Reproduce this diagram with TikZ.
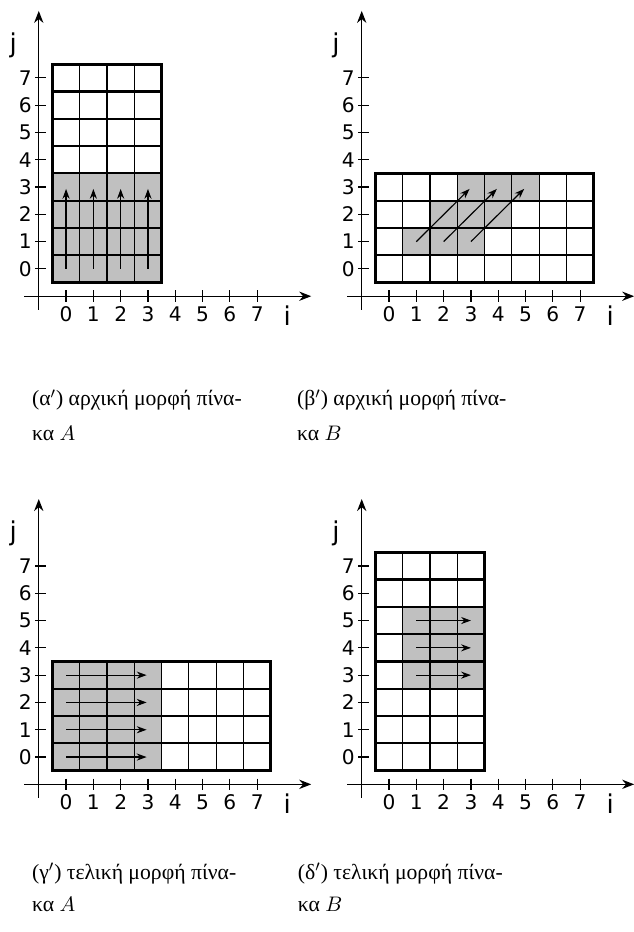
\documentclass[tikz,border=0pt]{standalone}
\usepackage{fontspec}
\usepackage{tikz}
\usetikzlibrary{arrows.meta}
\newfontfamily\grfont{Liberation Serif}
\newfontfamily\lblfont{DejaVu Sans}
\definecolor{cellgray}{RGB}{192,192,192}

\begin{document}
\begin{tikzpicture}[x=5mm, y=5mm,
    axis/.style={line width=0.7pt, -{Stealth[length=2.2mm, width=1.7mm]}},
    tickmark/.style={line width=0.6pt},
    rowline/.style={line width=1.15pt},
    colline/.style={line width=0.6pt},
    border/.style={line width=1.4pt},
    shaded/.style={fill=cellgray},
    move/.style={line width=0.6pt, -{Stealth[length=1.8mm, width=1.3mm]}},
    num/.style={font=\lblfont\fontsize{10.5}{12}\selectfont, inner sep=0pt},
    axlabel/.style={font=\lblfont\fontsize{13.5}{15}\selectfont, inner sep=0pt},
    capt/.style={font=\grfont\fontsize{11.3}{13}\selectfont, anchor=base west, inner sep=0pt}]

  \useasboundingbox (0,0) rectangle (23.223,-34.139);

  % axes of the four panels
  \foreach \p/\ox/\oy in {A/2.42/-9.85, B/14.25/-9.85, C/2.42/-27.73, D/14.25/-27.73} {
    \begin{scope}[shift={(\ox,\oy)}, name prefix=\p-]
      \draw[axis] (-1,-1.5) -- (-1,9.45);
      \draw[axis] (-1.53,-1) -- (8.98,-1);
      \foreach \k in {0,...,7} {
        \draw[tickmark] (\k,-0.79) -- (\k,-1.21);
        \draw[tickmark] (-1.12,\k) -- (-0.72,\k);
        \node[num] (xl\k) at (\k,-1.65) {\k};
        \node[num] (yl\k) at (-1.49,\k) {\k};
      }
      \node[axlabel] (jlab) at (-1.94,8.2) {j};
      \node[axlabel] (ilab) at (8.1,-1.7) {i};
    \end{scope}
  }

  % (a) initial A
  \begin{scope}[shift={(2.42,-9.85)}]
    \fill[shaded] (-0.5,-0.5) rectangle (3.5,3.5);
    \foreach \x in {0.5,1.5,2.5} \draw[colline] (\x,-0.5) -- (\x,7.5);
    \foreach \y in {0.5,1.5,...,6.5} \draw[rowline] (-0.5,\y) -- (3.5,\y);
    \draw[border] (-0.5,-0.5) rectangle (3.5,7.5);
    \foreach \x in {0,...,3} \draw[move] (\x,0) -- (\x,2.93);
  \end{scope}

  % (b) initial B
  \begin{scope}[shift={(14.25,-9.85)}]
    \fill[shaded] (0.5,0.5) rectangle (3.5,1.5);
    \fill[shaded] (1.5,1.5) rectangle (4.5,2.5);
    \fill[shaded] (2.5,2.5) rectangle (5.5,3.5);
    \foreach \x in {0.5,1.5,...,6.5} \draw[colline] (\x,-0.5) -- (\x,3.5);
    \foreach \y in {0.5,1.5,2.5} \draw[rowline] (-0.5,\y) -- (7.5,\y);
    \draw[border] (-0.5,-0.5) rectangle (7.5,3.5);
    \foreach \x in {1,2,3} \draw[move] (\x,1) -- ++(1.95,1.93);
  \end{scope}

  % (c) final A
  \begin{scope}[shift={(2.42,-27.73)}]
    \fill[shaded] (-0.5,-0.5) rectangle (3.5,3.5);
    \foreach \x in {0.5,1.5,...,6.5} \draw[colline] (\x,-0.5) -- (\x,3.5);
    \foreach \y in {0.5,1.5,2.5} \draw[rowline] (-0.5,\y) -- (7.5,\y);
    \draw[border] (-0.5,-0.5) rectangle (7.5,3.5);
    \foreach \y in {0,...,3} \draw[move] (0,\y) -- (2.95,\y);
  \end{scope}

  % (d) final B
  \begin{scope}[shift={(14.25,-27.73)}]
    \fill[shaded] (0.5,2.5) rectangle (3.5,5.5);
    \foreach \x in {0.5,1.5,2.5} \draw[colline] (\x,-0.5) -- (\x,7.5);
    \foreach \y in {0.5,1.5,...,6.5} \draw[rowline] (-0.5,\y) -- (3.5,\y);
    \draw[border] (-0.5,-0.5) rectangle (3.5,7.5);
    \foreach \y in {3,4,5} \draw[move] (1,\y) -- (3,\y);
  \end{scope}

  % captions
  \node[capt] (capA1) at (1.161,-14.86) {(α$'$) αρχική μορφή πίνα-};
  \node[capt] (capA2) at (1.161,-16.15) {κα $A$};
  \node[capt] (capB1) at (10.87,-14.86) {(β$'$) αρχική μορφή πίνα-};
  \node[capt] (capB2) at (10.87,-16.15) {κα $B$};
  \node[capt] (capC1) at (1.161,-32.21) {(γ$'$) τελική μορφή πίνα-};
  \node[capt] (capC2) at (1.161,-33.40) {κα $A$};
  \node[capt] (capD1) at (10.90,-32.21) {(δ$'$) τελική μορφή πίνα-};
  \node[capt] (capD2) at (10.90,-33.40) {κα $B$};
\end{tikzpicture}
\end{document}
